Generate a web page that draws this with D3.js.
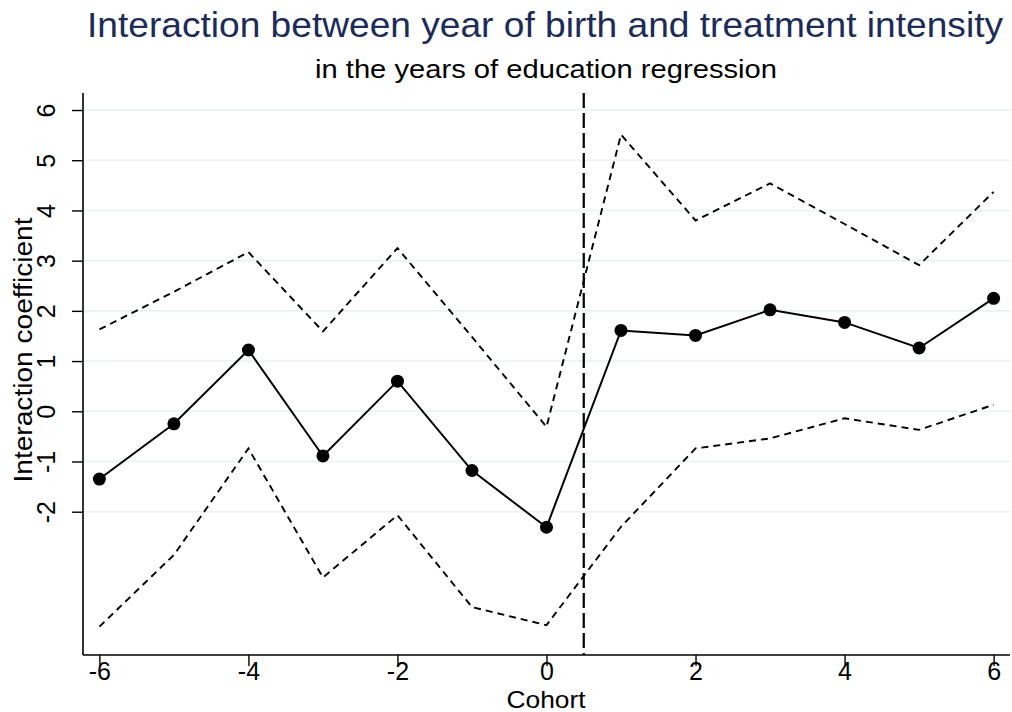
<!DOCTYPE html>
<html>
<head>
<meta charset="utf-8">
<script src="https://cdn.jsdelivr.net/npm/d3@7"></script>
<style>
  html, body { margin: 0; padding: 0; background: #fff; }
  svg { display: block; font-family: "Liberation Sans", Arial, sans-serif; }
</style>
</head>
<body>
<svg id="chart" width="1012" height="712"></svg>
<script>
// Cohort relative to the reform (0 = last untreated cohort)
const cohorts = [-6, -5, -4, -3, -2, -1, 0, 1, 2, 3, 4, 5, 6];
// Interaction coefficient estimates
const coefficients = [-1.35, -0.25, 1.22, -0.89, 0.60, -1.18, -2.31, 1.61, 1.51, 2.02, 1.77, 1.26, 2.25];
// 95% confidence bounds
const upperBound = [1.63, 2.38, 3.17, 1.59, 3.25, 1.48, -0.31, 5.51, 3.80, 4.54, 3.73, 2.91, 4.37];
const lowerBound = [-4.29, -2.86, -0.74, -3.31, -2.07, -3.90, -4.26, -2.30, -0.74, -0.54, -0.14, -0.37, 0.13];
// Axis ticks
const xTicks = [-6, -4, -2, 0, 2, 4, 6];
const yTicks = [-2, -1, 0, 1, 2, 3, 4, 5, 6];
// Reform cut-off
const cutoff = 0.5;

const titleText = "Interaction between year of birth and treatment intensity";
const subtitleText = "in the years of education regression";
const xTitle = "Cohort";
const yTitle = "Interaction coefficient";

const svg = d3.select("#chart");

const plot = { left: 83, right: 1010, top: 93, bottom: 655 };

const x = d3.scaleLinear().domain([-6.22, 6.22]).range([plot.left, plot.right]);
const y = d3.scaleLinear().domain([-4.854, 6.339]).range([plot.bottom, plot.top]);

// Plain hyphen-minus for negative tick labels
const tickFmt = d => String(d);

// Horizontal grid lines
svg.append("g")
  .selectAll("line")
  .data(yTicks)
  .join("line")
  .attr("x1", plot.left)
  .attr("x2", plot.right)
  .attr("y1", d => y(d))
  .attr("y2", d => y(d))
  .attr("stroke", "#eaf2f3")
  .attr("stroke-width", 1.6);

// Y axis
const yAxis = svg.append("g")
  .attr("transform", `translate(${plot.left},0)`)
  .call(d3.axisLeft(y).tickValues(yTicks).tickSize(11).tickSizeOuter(0).tickFormat(tickFmt));
yAxis.select(".domain").remove();
yAxis.append("line")
  .attr("x1", 0).attr("x2", 0)
  .attr("y1", plot.top).attr("y2", plot.bottom)
  .attr("stroke", "#000").attr("stroke-width", 1.6);
yAxis.selectAll(".tick line").attr("stroke", "#000").attr("stroke-width", 1.4);
yAxis.selectAll(".tick text")
  .attr("font-size", 25)
  .attr("fill", "#000")
  .attr("text-anchor", "middle")
  .attr("dy", null)
  .attr("x", null)
  .attr("transform", "translate(-28,0) rotate(-90)");

// X axis
const xAxis = svg.append("g")
  .attr("transform", `translate(0,${plot.bottom})`)
  .call(d3.axisBottom(x).tickValues(xTicks).tickSize(11).tickSizeOuter(0).tickFormat(tickFmt));
xAxis.select(".domain").remove();
xAxis.append("line")
  .attr("x1", plot.left).attr("x2", plot.right)
  .attr("y1", 0).attr("y2", 0)
  .attr("stroke", "#000").attr("stroke-width", 1.6);
xAxis.selectAll(".tick line").attr("stroke", "#000").attr("stroke-width", 1.4);
xAxis.selectAll(".tick text")
  .attr("font-size", 25)
  .attr("fill", "#000")
  .attr("dy", null)
  .attr("y", 25);

// Confidence bounds (dashed)
const line = d3.line().x((d, i) => x(cohorts[i])).y(d => y(d));
[upperBound, lowerBound].forEach(series => {
  svg.append("path")
    .datum(series)
    .attr("d", line)
    .attr("fill", "none")
    .attr("stroke", "#000")
    .attr("stroke-width", 1.9)
    .attr("stroke-dasharray", "7,5");
});

// Reform cut-off line
svg.append("line")
  .attr("x1", x(cutoff)).attr("x2", x(cutoff))
  .attr("y1", plot.top).attr("y2", plot.bottom)
  .attr("stroke", "#000")
  .attr("stroke-width", 2.2)
  .attr("stroke-dasharray", "15,5");

// Point estimates
svg.append("path")
  .datum(coefficients)
  .attr("d", line)
  .attr("fill", "none")
  .attr("stroke", "#000")
  .attr("stroke-width", 2);

svg.append("g")
  .selectAll("circle")
  .data(coefficients)
  .join("circle")
  .attr("cx", (d, i) => x(cohorts[i]))
  .attr("cy", d => y(d))
  .attr("r", 6.5)
  .attr("fill", "#000");

// Titles
svg.append("text")
  .attr("x", 545).attr("y", 37)
  .attr("text-anchor", "middle")
  .attr("font-size", 35)
  .attr("fill", "#1c2b58")
  .attr("textLength", 916)
  .attr("lengthAdjust", "spacingAndGlyphs")
  .text(titleText);

svg.append("text")
  .attr("x", 546).attr("y", 78)
  .attr("text-anchor", "middle")
  .attr("font-size", 26)
  .attr("fill", "#000")
  .attr("textLength", 462)
  .attr("lengthAdjust", "spacingAndGlyphs")
  .text(subtitleText);

svg.append("text")
  .attr("x", 546).attr("y", 708)
  .attr("text-anchor", "middle")
  .attr("font-size", 24)
  .attr("fill", "#000")
  .attr("textLength", 79)
  .attr("lengthAdjust", "spacingAndGlyphs")
  .text(xTitle);

svg.append("text")
  .attr("transform", "translate(32,350) rotate(-90)")
  .attr("text-anchor", "middle")
  .attr("font-size", 25)
  .attr("fill", "#000")
  .attr("textLength", 265)
  .attr("lengthAdjust", "spacingAndGlyphs")
  .text(yTitle);
</script>
</body>
</html>
